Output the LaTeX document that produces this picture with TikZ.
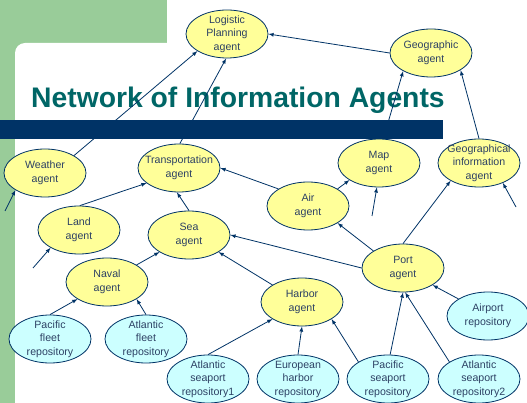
\documentclass[tikz,border=0pt]{standalone}
\usepackage{fontspec}
\setmainfont{Liberation Sans}
\usetikzlibrary{shapes.geometric}
\definecolor{vert}{RGB}{153,204,153}
\definecolor{marine}{RGB}{0,51,102}
\definecolor{sarcelle}{RGB}{0,102,102}
\definecolor{jaune}{RGB}{255,255,153}
\definecolor{bleuclair}{RGB}{204,255,255}
\definecolor{texte}{RGB}{45,65,100}

\begin{document}
\begin{tikzpicture}[x=1pt,y=1pt,
        agent/.style={ellipse, draw=marine, fill=jaune, line width=0.8pt,
            minimum width=82pt, minimum height=48pt, inner sep=0pt},%ellipses jaunes
        depot/.style={agent, fill=bleuclair},%ellipses bleues (repository)
        txt/.style={align=center, text=texte, inner sep=0pt,
            font=\fontsize{10.6}{13.5}\selectfont},%texte dans les ellipses
        fleche/.style={draw=marine, line width=0.8pt, -latex}]
    \useasboundingbox (0,0) rectangle (527,-403);

    % fond
    \fill[vert] (0,0) rectangle (527,-403);
    \fill[white] (15,-403) -- (15,-53) arc (180:90:10) -- (167,-43) -- (167,0)
        -- (527,0) -- (527,-403) -- cycle;
    \node[anchor=base west, inner sep=0pt, text=sarcelle,
        font=\fontsize{28.3}{34}\selectfont\bfseries] (titre) at (31,-108)
        {Network of Information Agents};
    \fill[marine] (0,-120) rectangle (443,-139);

    % agents
    \node[agent, label={[txt]center:Logistic\\Planning\\agent}] (logistic) at (227,-34) {};
    \node[agent, label={[txt]center:Geographic\\agent}] (geographic) at (431,-53) {};
    \node[agent, label={[txt]center:Weather\\agent}] (weather) at (45,-173) {};
    \node[agent, label={[txt]center:Transportation\\agent}] (transport) at (179,-168) {};
    \node[agent, label={[txt]center:Map\\agent}] (map) at (379,-163) {};
    \node[agent, label={[txt]center:Geographical\\information\\agent}] (geoinfo) at (479,-163) {};
    \node[agent, label={[txt]center:Air\\agent}] (air) at (308,-206) {};
    \node[agent, label={[txt]center:Land\\agent}] (land) at (79,-230) {};
    \node[agent, label={[txt]center:Sea\\agent}] (sea) at (189,-235) {};
    \node[agent, label={[txt]center:Naval\\agent}] (naval) at (107,-282) {};
    \node[agent, label={[txt]center:Port\\agent}] (port) at (403,-268) {};
    \node[agent, label={[txt]center:Harbor\\agent}] (harbor) at (302,-302) {};

    % repositories
    \node[depot, label={[txt]center:Pacific\\fleet\\repository}] (pfleet) at (50,-339) {};
    \node[depot, label={[txt]center:Atlantic\\fleet\\repository}] (afleet) at (146,-339) {};
    \node[depot, label={[txt]center:Airport\\repository}] (airport) at (488,-316) {};
    \node[depot, label={[txt]center:Atlantic\\seaport\\repository1}] (aseaport) at (208,-379) {};
    \node[depot, label={[txt]center:European\\harbor\\repository}] (eharbor) at (298,-379) {};
    \node[depot, label={[txt]center:Pacific\\seaport\\repository}] (pseaport) at (388,-379) {};
    \node[depot, label={[txt]center:Atlantic\\seaport\\repository2}] (aseaport2) at (479,-379) {};

    % bouts libres
    \coordinate (libreA) at (5,-211);
    \coordinate (libreB) at (33,-268);
    \coordinate (libreC) at (372,-216);
    \coordinate (libreD) at (516,-207);

    % fleches
    \draw[fleche] (weather.31) -- (logistic.210);
    \draw[fleche] (transport.88) -- (logistic.268);
    \draw[fleche] (geographic.west) -- (logistic.east);
    \draw[fleche] (map.80) -- (geographic.213);
    \draw[fleche] (geoinfo.north) -- (geographic.330);
    \draw[fleche] (libreA) -- (weather.210);
    \draw[fleche] (land.88) -- (transport.205);
    \draw[fleche] (sea.north) -- (transport.265);
    \draw[fleche] (air.150) -- (transport.east);
    \draw[fleche] (libreB) -- (land.212);
    \draw[fleche] (naval.30) -- (sea.210);
    \draw[fleche] (port.west) -- (sea.east);
    \draw[fleche] (harbor.150) -- (sea.330);
    \draw[fleche] (air.30) -- (map.210);
    \draw[fleche] (libreC) -- (map.265);
    \draw[fleche] (port.150) -- (air.330);
    \draw[fleche] (port.north) -- (geoinfo.212);
    \draw[fleche] (libreD) -- (geoinfo.320);
    \draw[fleche] (pfleet.north) -- (naval.210);
    \draw[fleche] (afleet.north) -- (naval.330);
    \draw[fleche] (aseaport.north) -- (harbor.210);
    \draw[fleche] (eharbor.north) -- (harbor.south);
    \draw[fleche] (pseaport.150) -- (harbor.330);
    \draw[fleche] (pseaport.85) -- (port.south);
    \draw[fleche] (aseaport2.150) -- (port.275);
    \draw[fleche] (airport.150) -- (port.330);
\end{tikzpicture}
\end{document}
